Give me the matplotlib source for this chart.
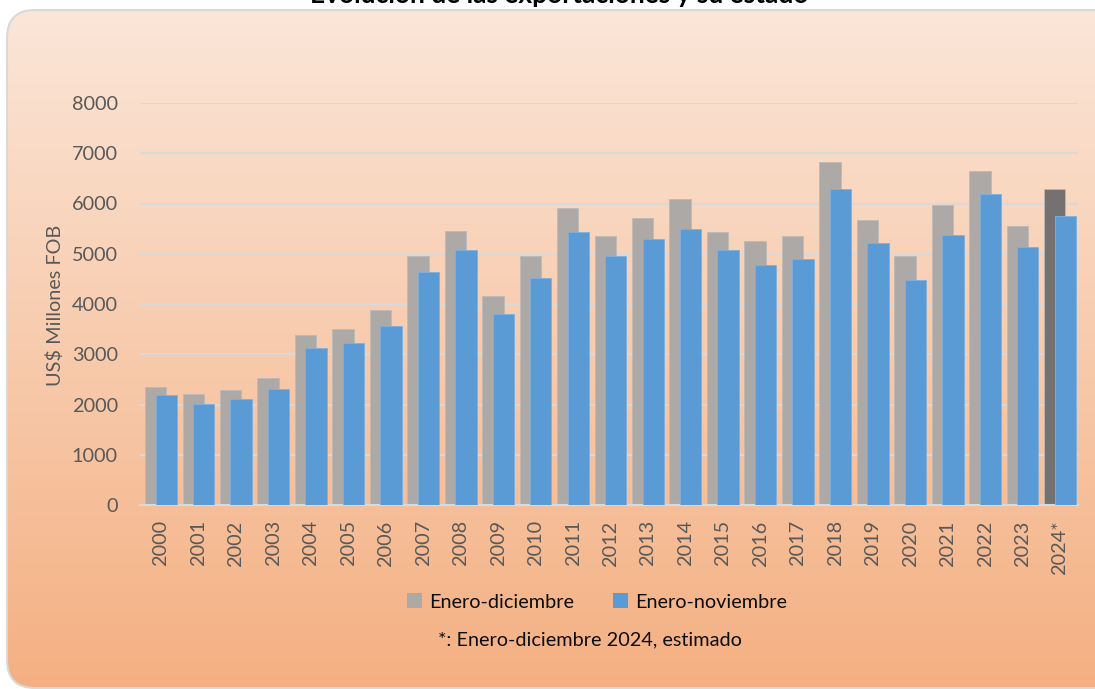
import matplotlib
matplotlib.use("Agg")
import matplotlib.pyplot as plt
import numpy as np
from matplotlib.patches import FancyBboxPatch, Patch

# ---- data ----
years = ["2000", "2001", "2002", "2003", "2004", "2005", "2006", "2007", "2008",
         "2009", "2010", "2011", "2012", "2013", "2014", "2015", "2016", "2017",
         "2018", "2019", "2020", "2021", "2022", "2023", "2024*"]
ene_dic = [2350, 2200, 2290, 2530, 3380, 3500, 3880, 4955, 5450, 4160, 4955,
           5910, 5355, 5710, 6090, 5430, 5255, 5355, 6826, 5670, 4955, 5970,
           6640, 5550, 6290]
ene_nov = [2190, 2010, 2110, 2310, 3125, 3225, 3560, 4635, 5075, 3800, 4515,
           5430, 4955, 5295, 5490, 5075, 4775, 4895, 6290, 5215, 4480, 5375,
           6180, 5135, 5750]
yticks = [0, 1000, 2000, 3000, 4000, 5000, 6000, 7000, 8000]
series_names = ["Enero-diciembre", "Enero-noviembre"]
title = "Evolución de las exportaciones y su estado"
ylabel = "US$ Millones FOB"
footnote = "*: Enero-diciembre 2024, estimado"

plt.rcParams['font.family'] = ['Lato', 'DejaVu Sans']

W, H = 1095, 689
fig = plt.figure(figsize=(W / 100, H / 100), dpi=100, facecolor="white")

# ---- background rounded gradient panel ----
bg = fig.add_axes([0, 0, 1, 1], zorder=0)
bg.set_xlim(0, W)
bg.set_ylim(H, 0)
bg.axis("off")
top_c = np.array([251, 230, 216]) / 255
bot_c = np.array([244, 176, 130]) / 255
t = np.linspace(0, 1, 256)[:, None]
grad = (top_c[None, :] * (1 - t) + bot_c[None, :] * t)[:, None, :]
grad = np.repeat(grad, 2, axis=1)
panel = FancyBboxPatch((7, 10), W + 40, H - 11,
                       boxstyle="round,pad=0,rounding_size=28",
                       facecolor="none", edgecolor="#D9D9D9", linewidth=1.5)
bg.add_patch(panel)
im = bg.imshow(grad, extent=(7, W + 47, H - 1, 10), aspect="auto", interpolation="bilinear")
im.set_clip_path(panel)

# ---- title (cut off at top, as in the reference) ----
fig.text(0.511, 1 - 3 / H, title, ha="center", va="baseline",
         fontsize=19, fontweight="bold", color="black")

# ---- main axes ----
ax = fig.add_axes([140 / W, 1 - 505 / H, (1078 - 140) / W, (505 - 103) / H], zorder=1)
ax.set_facecolor("none")
x = np.arange(len(years))
w = 0.57
gray_cols = ["#ADA9A7"] * (len(years) - 1) + ["#757170"]
ax.bar(x - 0.14, ene_dic, width=w, color=gray_cols, edgecolor="#BDB9B7",
       linewidth=0.6, zorder=2)
ax.bar(x + 0.14, ene_nov, width=w, color="#5B9BD5", edgecolor="#7FB0DE",
       linewidth=0.6, zorder=3)

ax.set_xlim(-0.56, 24.48)
ax.set_ylim(0, 8000)
ax.set_yticks(yticks)
ax.set_yticklabels([str(v) for v in yticks])
ax.yaxis.grid(True, color="#D9D9D9", linewidth=1.5, zorder=1)
ax.set_axisbelow(True)
ax.set_xticks(x)
ax.set_xticklabels(years, rotation=90)
for s in ["top", "right", "left"]:
    ax.spines[s].set_visible(False)
ax.spines["bottom"].set_color("#D9D9D9")
ax.spines["bottom"].set_linewidth(1.5)
ax.tick_params(axis="both", length=0, colors="#595959", labelsize=14.3)
ax.tick_params(axis="y", pad=16)
ax.tick_params(axis="x", pad=11)

fig.text(55 / W, 1 - 305 / H, ylabel, rotation=90, ha="center", va="center",
         fontsize=14.3, color="#595959")

# ---- legend ----
handles = [Patch(facecolor="#ADA9A7", edgecolor="none"),
           Patch(facecolor="#5B9BD5", edgecolor="none")]
fig.legend(handles, series_names, loc="center", bbox_to_anchor=(597 / W, 1 - 602 / H),
           ncol=2, frameon=False, fontsize=14.3, handlelength=0.75, handleheight=0.75,
           handletextpad=0.35, columnspacing=2.0, labelcolor="#0D0D0D")

fig.text(590 / W, 1 - 640 / H, footnote, ha="center", va="center",
         fontsize=14.3, color="#0D0D0D")

fig.savefig("out.png", dpi=100, facecolor="white")
